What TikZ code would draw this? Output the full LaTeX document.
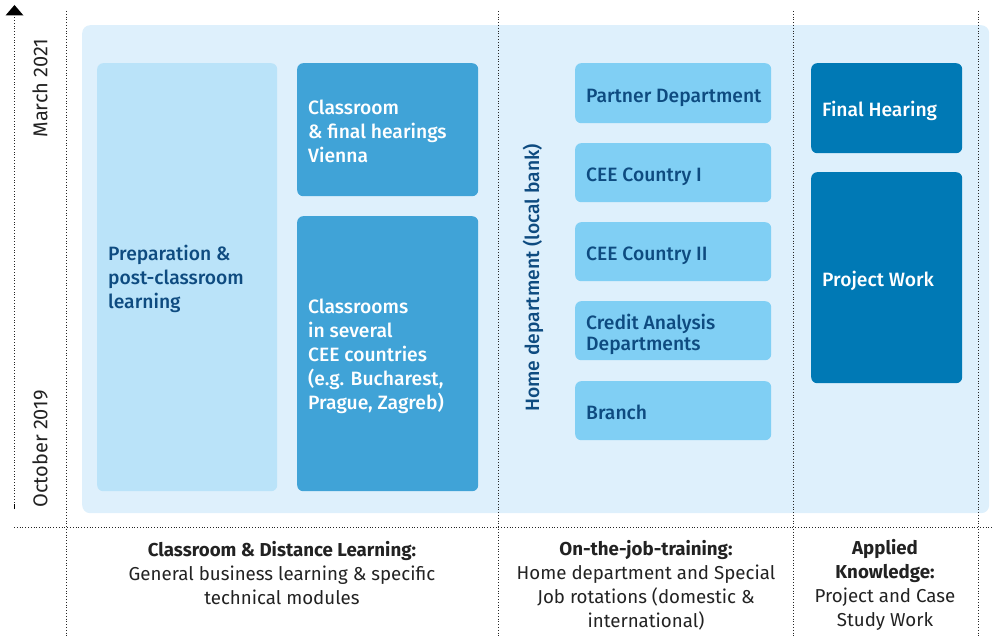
\documentclass[tikz,border=0pt]{standalone}
\usepackage{fontspec}
\setmainfont{Fira Sans}
\newfontfamily\medfont{Fira Sans Medium}
\usetikzlibrary{arrows.meta}
\definecolor{bgblue}{HTML}{DEF0FC}
\definecolor{prepblue}{HTML}{BAE3F9}
\definecolor{midblue}{HTML}{40A3D7}
\definecolor{rotblue}{HTML}{80CFF4}
\definecolor{darkblue}{HTML}{0079B5}
\definecolor{navytext}{HTML}{0E4B80}
\definecolor{bodytext}{HTML}{222222}
\tikzset{
  boxtext/.style={font=\medfont\fontsize{19.3}{24}\selectfont, inner sep=0pt},
  onelabel/.style={boxtext, anchor=mid west},
  card/.style={rounded corners=6pt, inner sep=0pt, anchor=north west},
  lightcard/.style={card, fill=prepblue},
  midcard/.style={card, fill=midblue},
  rotcard/.style={card, fill=rotblue},
  darkcard/.style={card, fill=darkblue},
  guide/.style={dotted, line width=0.8pt, black!85},
  caption/.style={font=\fontsize{18.7}{24}\selectfont, text=bodytext, align=center},
  datelabel/.style={rotate=90, font=\fontsize{20}{24}\selectfont, text=bodytext},
}
\begin{document}
\begin{tikzpicture}[x=1pt,y=-1pt]
\useasboundingbox (0,0) rectangle (994,636);
% background panel
\node[fill=bgblue, rounded corners=8pt, minimum width=907pt, minimum height=488pt, inner sep=0pt, anchor=north west] (panel) at (82,25) {};
% guides
\coordinate (g1t) at (66,11); \coordinate (g1b) at (66,636);
\coordinate (g2t) at (498,11); \coordinate (g2b) at (498,636);
\coordinate (g3t) at (793,11); \coordinate (g3b) at (793,636);
\coordinate (g4t) at (978,11); \coordinate (g4b) at (978,636);
\coordinate (hl) at (14,527); \coordinate (hr) at (994,527);
\draw[guide] (g1t) -- (g1b);
\draw[guide] (g2t) -- (g2b);
\draw[guide] (g3t) -- (g3b);
\draw[guide] (g4t) -- (g4b);
\draw[guide] (hl) -- (hr);
% time axis
\coordinate (axb) at (14,508);
\coordinate (axt) at (14,14);
\coordinate (tip) at (14.5,5);
\draw[guide] (axb) -- (axt);
\draw[line width=1pt] (14,504) -- (14,509);
\fill (tip) -- (23.5,15.5) -- (5.5,15.5) -- cycle;
\node[datelabel] (march) at (40,88) {March 2021};
\node[datelabel] (october) at (40,449) {October 2019};
% column 1
\node[lightcard, minimum width=180pt, minimum height=428pt] (prep) at (97,63) {};
\node[boxtext, text=navytext, align=left, anchor=west] (preptxt) at (108,279) {Preparation \&\\post-classroom\\learning};
\node[midcard, minimum width=181pt, minimum height=133pt] (vienna) at (297,63) {};
\node[boxtext, text=white, align=left, anchor=west] (viennatxt) at (308,131) {Classroom\\\& final hearings\\Vienna};
\node[midcard, minimum width=181pt, minimum height=275pt] (cee) at (297,216) {};
\node[boxtext, text=white, align=left, anchor=west] (ceetxt) at (308,356) {Classrooms\\in several\\CEE countries\\(e.g. Bucharest,\\Prague, Zagreb)};
% column 2
\node[boxtext, rotate=90, text=navytext] (home) at (533,278) {Home department (local bank)};
\node[rotcard, minimum width=196pt, minimum height=60pt] (partner) at (575,63) {};
\node[onelabel, text=navytext] (partnertxt) at (586,100) {Partner Department};
\node[rotcard, minimum width=196pt, minimum height=59pt] (ceei) at (575,143) {};
\node[onelabel, text=navytext] (ceeitxt) at (586,178.5) {CEE Country I};
\node[rotcard, minimum width=196pt, minimum height=59pt] (ceeii) at (575,222) {};
\node[onelabel, text=navytext] (ceeiitxt) at (586,257.5) {CEE Country II};
\node[rotcard, minimum width=196pt, minimum height=59pt] (credit) at (575,301) {};
\node[boxtext, text=navytext, anchor=west, align=left, font=\medfont\fontsize{19.3}{21}\selectfont] (credittxt) at (586,334) {Credit Analysis\\Departments};
\node[rotcard, minimum width=196pt, minimum height=59pt] (branch) at (575,381) {};
\node[onelabel, text=navytext] (branchtxt) at (586,416.5) {Branch};
% column 3
\node[darkcard, minimum width=151pt, minimum height=90pt] (final) at (811,63) {};
\node[onelabel, text=white] (finaltxt) at (822,114) {Final Hearing};
\node[darkcard, minimum width=151pt, minimum height=211pt] (project) at (811,172) {};
\node[onelabel, text=white] (projecttxt) at (822,284) {Project Work};
% captions
\node[caption] (cap1) at (282,573) {\textbf{Classroom \& Distance Learning:}\\General business learning \& specific\\technical modules};
\node[caption] (cap2) at (646,585) {\textbf{On-the-job-training:}\\Home department and Special\\Job rotations (domestic \&\\international)};
\node[caption] (cap3) at (885,585) {\textbf{Applied}\\\textbf{Knowledge:}\\Project and Case\\Study Work};
\end{tikzpicture}
\end{document}
